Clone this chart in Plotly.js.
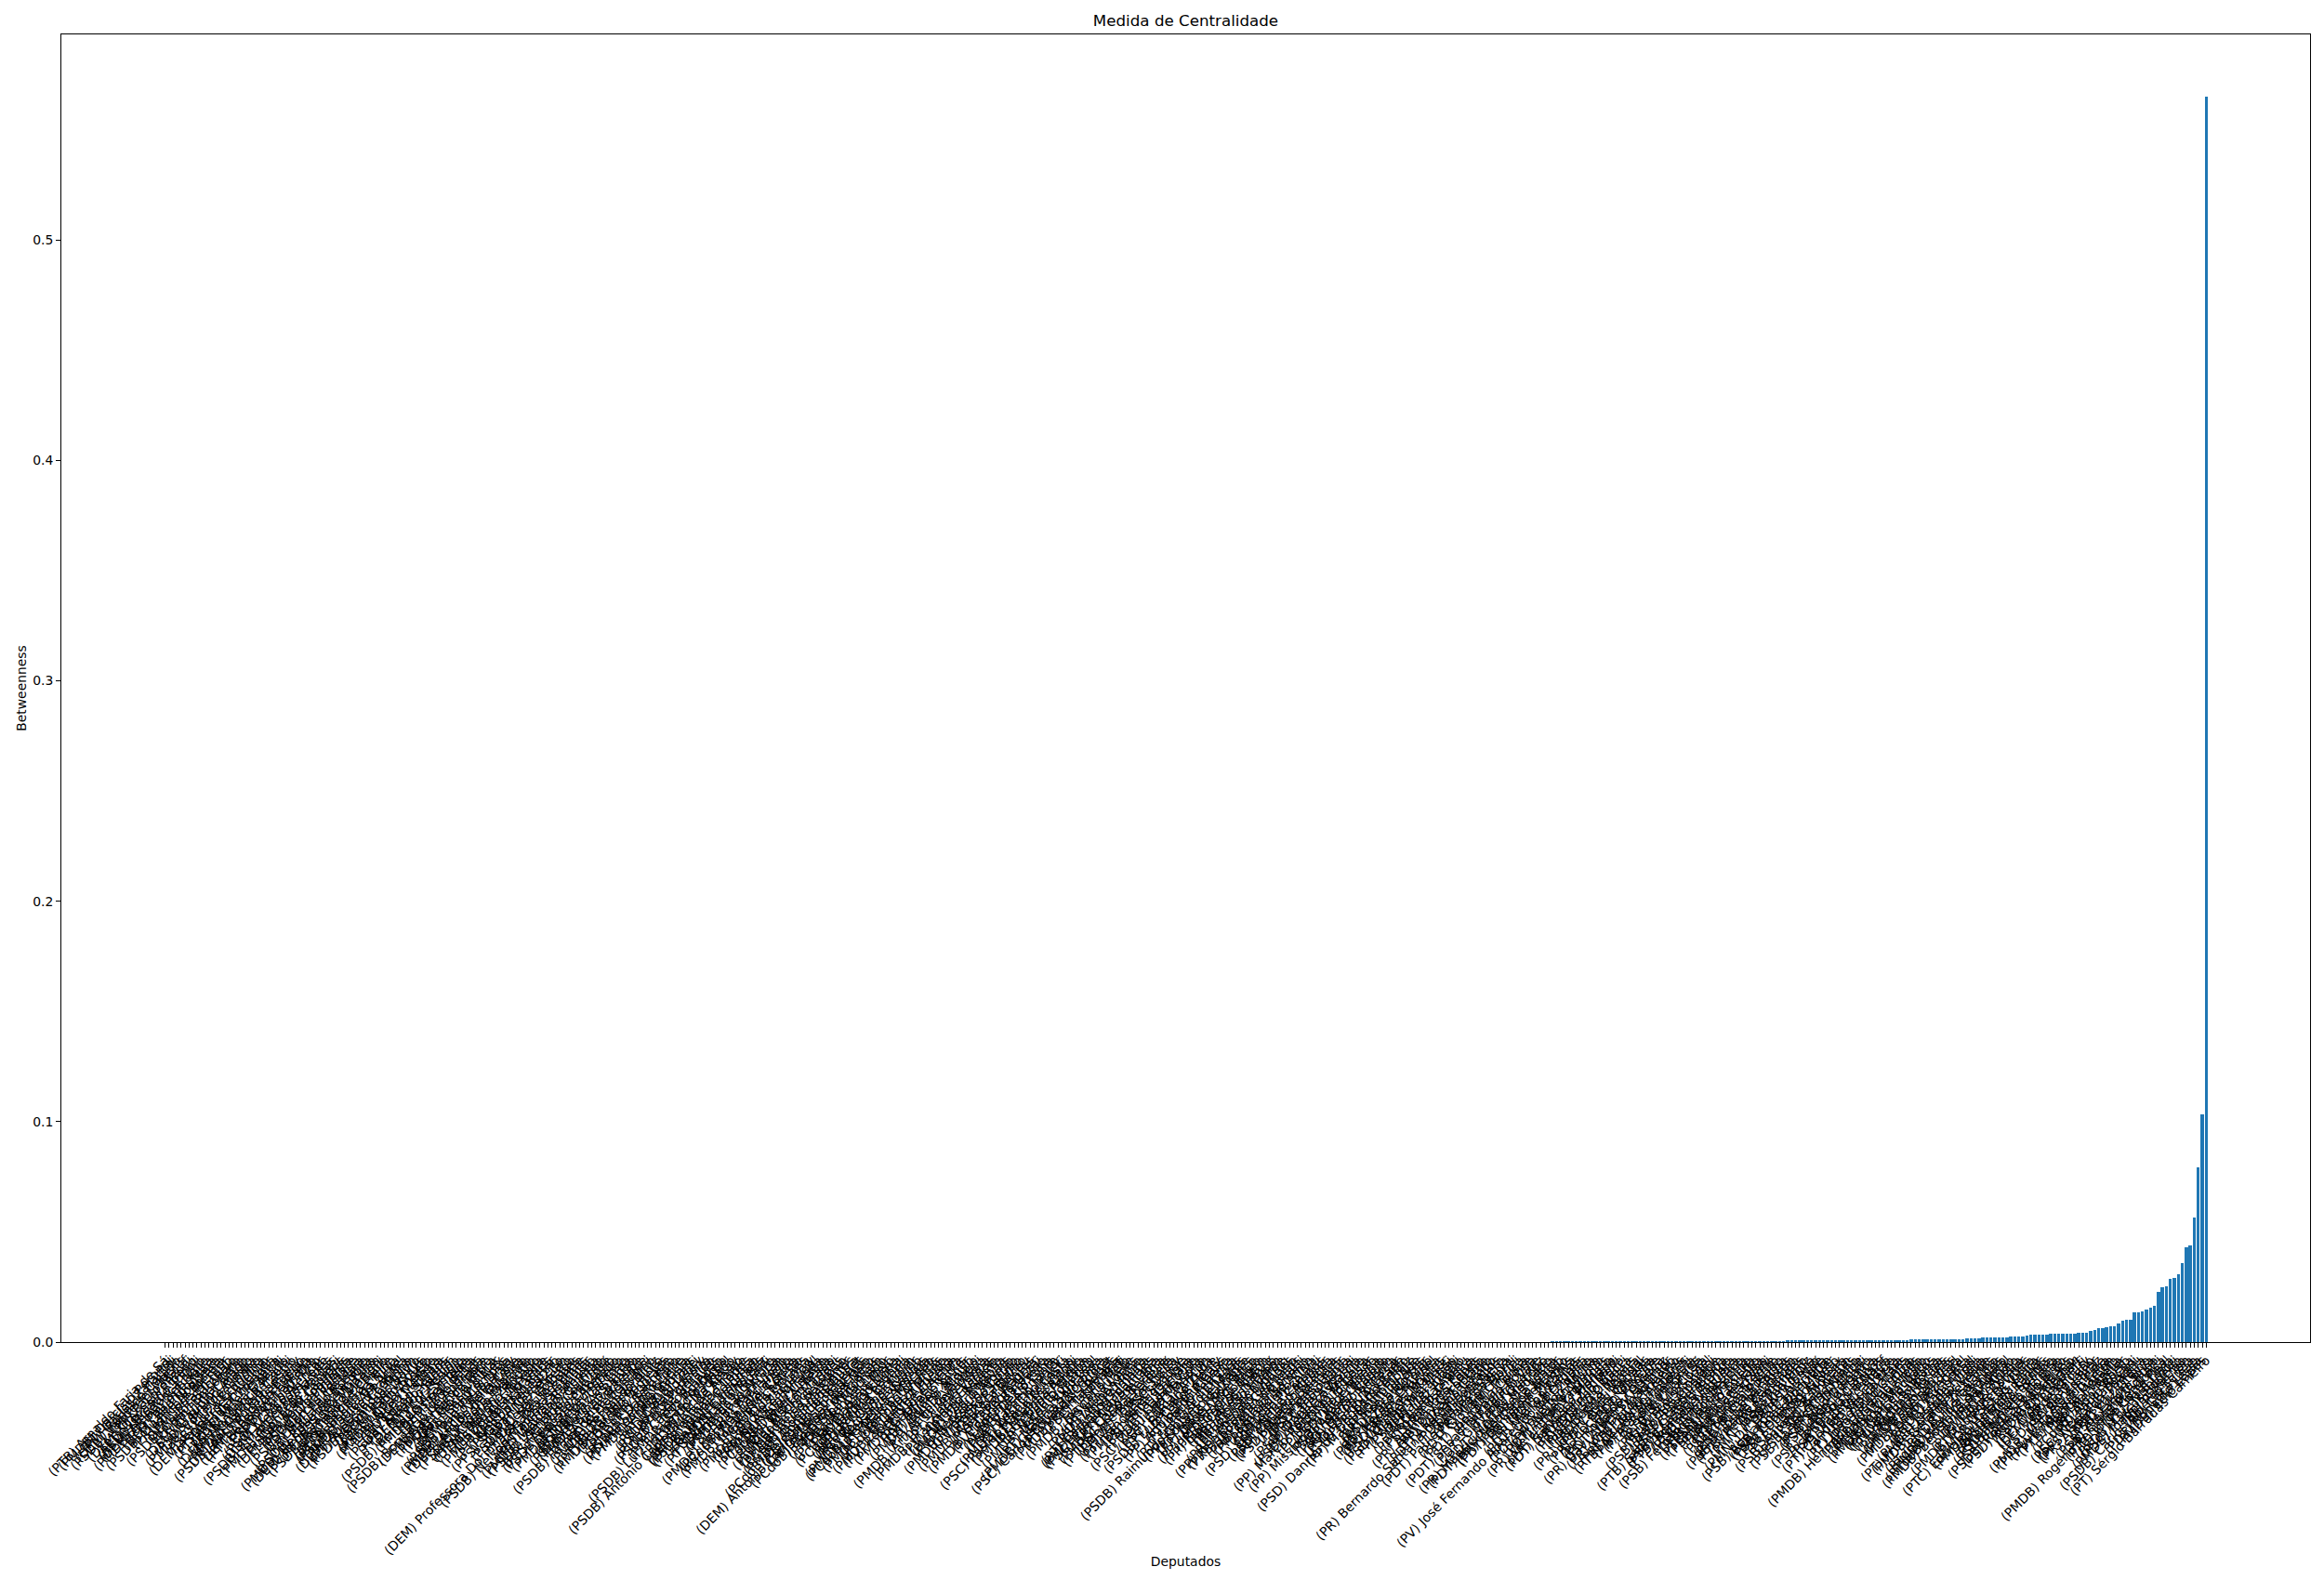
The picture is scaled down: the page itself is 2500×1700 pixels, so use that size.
<!DOCTYPE html>
<html>
<head>
<meta charset="utf-8">
<script src="https://cdn.plot.ly/plotly-3.0.1.min.js"></script>
<style>html,body{margin:0;padding:0;background:#fff;}#chart{width:2500px;height:1700px;}</style>
</head>
<body>
<div id="chart"></div>
<script>
// Tick labels (deputies), ordered by betweenness ascending
const deputados = [
"(PTB) Arnaldo Faria de Sá","(PMDB) Darcísio Perondi","(PT) Carlos Zarattini","(DEM) Ronaldo Caiado","(PSDB) Vanderlei Macris","(PP) Paulo Maluf","(DEM) Onyx Lorenzoni","(PT) Devanir Ribeiro","(PSDB) Ricardo Tripoli","(DEM) Mendonça Filho",
"(PMDB) Osmar Serraglio","(PT) Paulo Teixeira","(DEM) Rodrigo Maia","(PSDB) Duarte Nogueira","(PR) Lincoln Portela","(PT) José Mentor","(DEM) Efraim Filho","(PSDB) Carlos Sampaio","(PP) Jair Bolsonaro","(PT) Jilmar Tatto",
"(DEM) Claudio Cajado","(PSDB) Bruno Araújo","(PMDB) Eduardo Cunha","(PT) Vicentinho","(PSB) Luiza Erundina","(DEM) Pauderney Avelino","(PSDB) Jutahy Junior","(PT) Arlindo Chinaglia","(PDT) Miro Teixeira","(PSDB) Mara Gabrilli",
"(DEM) Mendonça Prado","(PT) Ricardo Berzoini","(PMDB) Marcelo Castro","(PSDB) Antonio Imbassahy","(PPS) Rubens Bueno","(DEM) Abelardo Lupion","(PT) Henrique Fontana","(PSDB) William Dib","(PV) Sarney Filho","(PSOL) Chico Alencar",
"(DEM) Alexandre Leite","(PSDB) Emanuel Fernandes","(PT) Pepe Vargas","(PMDB) Leonardo Picciani","(PSDB) João Campos","(DEM) Paulo Magalhães","(PT) Paulo Pimenta","(PSOL) Ivan Valente","(PSDB) Marcus Pestana","(DEM) Felipe Maia",
"(PT) Maria do Rosário","(PSDB) Eduardo Barbosa","(PMDB) Mendes Ribeiro Filho","(DEM) Jorge Tadeu Mudalen","(PT) Fernando Marroni","(PSDB) Rodrigo de Castro","(PPS) Roberto Freire","(DEM) Eli Correa Filho","(PT) Benedita da Silva","(PSDB) Paulo Abi-Ackel",
"(PMDB) Eliseu Padilha","(DEM) Augusto Coutinho","(PT) Alessandro Molon","(PSDB) Domingos Sávio","(PSOL) Jean Wyllys","(DEM) Fábio Souto","(PT) Chico D'Angelo","(PSDB) Nilson Leitão","(PMDB) Alceu Moreira","(DEM) Lira Maia",
"(PT) Edson Santos","(PSDB) Alfredo Kaefer","(PPS) Arnaldo Jardim","(DEM) Vitor Penido","(PT) Luiz Sérgio","(PSDB) Reinaldo Azambuja","(PMDB) Osmar Terra","(DEM) Mandetta","(PT) Jorge Bittar","(PSDB) Bonifácio de Andrada",
"(DEM) Davi Alcolumbre","(PT) Fernando Ferro","(PMDB) Lelo Coimbra","(PSDB) Marcio Bittar","(PPS) Sandro Alex","(DEM) Júlio Campos","(PT) João Paulo Lima","(PSDB) Pinto Itamaraty","(PMDB) Lúcio Vieira Lima","(DEM) Arolde de Oliveira",
"(PT) Pedro Eugênio","(PSDB) Rogério Marinho","(PPS) Carmen Zanotto","(DEM) Betinho Rosado","(PT) Amauri Teixeira","(PSDB) Otavio Leite","(PMDB) Colbert Martins","(DEM) João Bittar","(PT) Nelson Pellegrino","(PSDB) Andreia Zito",
"(PPS) Stepan Nercessian","(PT) Luiz Alberto","(PSDB) Cesar Colnago","(PMDB) Mauro Lopes","(DEM) Professora Dorinha Seabra Rezende","(PT) Josias Gomes","(PSDB) Nelson Marchezan Junior","(PPS) Dimas Ramalho","(PT) Waldenor Pereira","(PMDB) Leonardo Quintão",
"(PSDB) Zenaldo Coutinho","(PT) Emiliano José","(PPS) Augusto Carvalho","(PSDB) Eduardo Azeredo","(PT) Zezéu Ribeiro","(PMDB) Newton Cardoso","(PSDB) Vaz de Lima","(PT) Valmir Assunção","(PSDB) Berinho Bantim","(PMDB) Saraiva Felipe",
"(PT) Afonso Florence","(PSDB) Fernando Francischini","(PT) Assis Carvalho","(PMDB) Fernando Diniz","(PSDB) Nilson Pinto","(PT) Nazareno Fonteles","(PMDB) Antônio Andrade","(PSDB) Ruy Carneiro","(PT) Beto Faro","(PMDB) Danilo Forte",
"(PSDB) Sergio Guerra","(PT) Miriquinho Batista","(PMDB) Aníbal Gomes","(PSDB) Izalci","(PT) Cláudio Puty","(PMDB) Raul Henry","(PSDB) Rui Palmeira","(PT) Zé Geraldo","(PMDB) Pedro Chaves","(PSDB) Carlos Brandão",
"(PT) Policarpo","(PMDB) Sandro Mabel","(PSDB) Luiz Fernando Machado","(PT) Erika Kokay","(PMDB) Íris de Araújo","(PSDB) Antonio Carlos Mendes Thame","(PT) Reginaldo Lopes","(PMDB) Júnior Coimbra","(PSDB) Walter Feldman","(PT) Gabriel Guimarães",
"(PMDB) Edinho Bez","(PSDB) Marco Tebaldi","(PT) Leonardo Monteiro","(PMDB) João Arruda","(PSDB) Bruna Furlan","(PT) Padre João","(PMDB) Hermes Parcianello","(PCdoB) Manuela d'Ávila","(PT) Miguel Corrêa","(PMDB) Moacir Micheletto",
"(PCdoB) Jô Moraes","(PT) Odair Cunha","(PMDB) André Zacharow","(PCdoB) Alice Portugal","(PT) Nilmário Miranda","(PMDB) Valdir Colatto","(PCdoB) Daniel Almeida","(PT) Weliton Prado","(PMDB) Mauro Mariani","(PCdoB) Chico Lopes",
"(PT) Margarida Salomão","(PMDB) Celso Maldaner","(PCdoB) Luciana Santos","(PT) Domingos Dutra","(PMDB) Ronaldo Benedet","(PCdoB) Delegado Protógenes","(PT) Francisco Praciano","(DEM) Antonio Carlos Magalhães Neto","(PMDB) Rose de Freitas","(PCdoB) Evandro Milhomem",
"(PT) Sibá Machado","(PMDB) Manoel Junior","(PCdoB) Assis Melo","(PT) Taumaturgo Lima","(PMDB) Hugo Motta","(PCdoB) Jandira Feghali","(PT) Fátima Bezerra","(PMDB) Nilda Gondim","(PCdoB) Osmar Júnior","(PT) Rogério Carvalho",
"(PMDB) Alexandre Santos","(PCdoB) Perpétua Almeida","(PT) Márcio Macêdo","(PMDB) Washington Reis","(PCdoB) João Ananias","(PT) Artur Bruno","(PMDB) Solange Almeida","(PV) Roberto de Lucena","(PT) José Airton","(PMDB) Gabriel Chalita",
"(PV) Alfredo Sirkis","(PT) Eudes Xavier","(PMDB) Edinho Araújo","(PV) Dr. Aluizio","(PT) Angelo Vanhoni","(PMDB) Arthur Oliveira Maia","(PV) Penna","(PT) André Vargas","(PMDB) Francisco Escórcio","(PV) Antônio Roberto",
"(PT) Dr. Rosinha","(PMDB) Pedro Novais","(PV) Henrique Afonso","(PT) Assis do Couto","(PMDB) Professor Setimo","(PV) Fábio Ramalho","(PT) Zeca Dirceu","(PMDB) Asdrúbal Bentes","(PV) Paulo Wagner","(PT) Pedro Uczai",
"(PMDB) Elcione Barbalho","(PV) Rosane Ferreira","(PT) Décio Lima","(PMDB) José Priante","(PSC) Ratinho Junior","(PT) Luci Choinacki","(PMDB) Wladimir Costa","(PSC) Pastor Marco Feliciano","(PT) Rubens Otoni","(PMDB) Marinha Raupp",
"(PSC) Filipe Pereira","(PT) Pedro Wilson","(PMDB) Natan Donadon","(PSC) Hugo Leal","(PT) Marina Santanna","(PMDB) Genecias Noronha","(PSC) Carlos Eduardo Cadoca","(PT) Vander Loubet","(PMDB) Fátima Pelaes","(PSC) Takayama",
"(PT) Biffi","(PMDB) Flaviano Melo","(PSC) Lauriete","(PT) Iriny Lopes","(PMDB) Renan Filho","(PSC) Andre Moura","(PT) Carlinhos Almeida","(PMDB) João Magalhães","(PSC) Erivelton Santana","(PT) Newton Lima",
"(PMDB) Carlos Bezerra","(PSC) Costa Ferreira","(PT) Janete Rocha Pietá","(PMDB) Teresa Surita","(PSC) Deley","(PT) Vanderlei Siraque","(PMDB) Almeida Lima","(PSC) Silas Câmara","(PT) Luiz Couto","(PMDB) Camilo Cola",
"(PSC) Zequinha Marinho","(PT) Marcon","(PSC) Edmar Arruda","(PT) Ronaldo Zulke","(PSDB) Luiz Carlos Hauly","(PT) Bohn Gass","(PP) Aguinaldo Ribeiro","(PT) Paulo Ferreira","(PP) Arthur Lira","(PT) Francisco Chagas",
"(PSDB) Raimundo Gomes de Matos","(PP) Eduardo da Fonte","(PT) Jesus Rodrigues","(PP) Dilceu Sperafico","(PRB) Vitor Paulo","(PP) Jerônimo Goergen","(PRB) George Hilton","(PP) Luis Carlos Heinze","(PRB) Acelino Popó","(PP) Afonso Hamm",
"(PRB) Cleber Verde","(PP) Renato Molling","(PRB) Antonio Bulhões","(PP) José Otávio Germano","(PRB) Jhonatan de Jesus","(PP) Vilson Covatti","(PRB) Márcio Marinho","(PP) Esperidião Amin","(PRB) Heleno Silva","(PP) João Pizzolatti",
"(PSD) Guilherme Campos","(PP) Nelson Meurer","(PSD) Eduardo Sciarra","(PP) Roberto Balestra","(PSD) Moreira Mendes","(PP) Sandes Júnior","(PSD) Fábio Faria","(PP) Carlos Souza","(PSD) Onofre Agostini","(PP) Rebecca Garcia",
"(PSD) Armando Vergílio","(PP) Márcio Reinaldo Moreira","(PSD) Júlio Cesar","(PP) Toninho Pinheiro","(PSD) Jorge Boeira","(PP) Missionário José Olimpio","(PSD) Ademir Camilo","(PP) Simão Sessim","(PSD) Edson Pimenta","(PP) Dr. Paulo César",
"(PSD) Diego Andrade","(PP) Roberto Britto","(PSD) Danrlei de Deus Hinterholz","(PP) Mário Negromonte","(PSD) Junji Abe","(PP) José Linhares","(PSD) Ricardo Izar","(PP) Lázaro Botelho","(PSD) Heuler Cruvinel","(PP) Iracema Portella",
"(PSD) Marcos Montes","(PP) Beto Mansur","(PSD) Guilherme Mussi","(PP) Waldir Maranhão","(PSD) Walter Ihoshi","(PP) Luiz Argôlo","(PSD) Irajá Abreu","(PP) Roberto Teixeira","(PSD) Eleuses Paiva","(PP) Júlio Lopes",
"(PR) Anthony Garotinho","(PP) Dimas Fabiano","(PR) Luciano Castro","(PDT) André Figueiredo","(PR) Bernardo Santana de Vasconcellos","(PDT) Brizola Neto","(PR) José Rocha","(PDT) Paulo Pereira da Silva","(PR) Milton Monti","(PDT) Giovani Cherini",
"(PR) Tiririca","(PDT) Vieira da Cunha","(PR) Paulo Freire","(PDT) Sebastião Bala Rocha","(PR) Lúcio Vale","(PDT) Giovanni Queiroz","(PR) Giacobo","(PDT) Marcos Medrado","(PR) Maurício Quintella Lessa","(PDT) Félix Mendonça Júnior",
"(PR) José Carlos Araújo","(PDT) Damião Feliciano","(PR) Jaime Martins","(PDT) Zé Silva","(PR) Aelton Freitas","(PDT) Mário Heringer","(PV) José Fernando Aparecido de Oliveira","(PR) Zoinho","(PDT) Weverton Rocha","(PR) Neilton Mulim",
"(PDT) Ângelo Agnolin","(PR) Wellington Fagundes","(PDT) Manato","(PR) Francisco Floriano","(PDT) Salvador Zimbaldi","(PR) Jorginho Mello","(PDT) Enio Bacci","(PR) Laercio Oliveira","(PDT) Flávia Morais","(PR) Gorete Pereira",
"(PDT) Sueli Vidigal","(PR) João Carlos Bacelar","(PDT) Oziel Oliveira","(PR) Inocêncio Oliveira","(PDT) Reguffe","(PR) Ronaldo Fonseca","(PDT) Wolney Queiroz","(PR) Davi Alves Silva Júnior","(PDT) João Dado","(PR) Wellington Roberto",
"(PTB) Jovair Arantes","(PR) Dr. Adilson Soares","(PTB) Nelson Marquezelli","(PR) Aracely de Paula","(PTB) Sérgio Moraes","(PR) Liliam Sá","(PTB) Silvio Costa","(PR) Vinicius Gurgel","(PTB) Eros Biondini","(PSB) Beto Albuquerque",
"(PTB) Paes Landim","(PSB) Glauber Braga","(PTB) Sabino Castelo Branco","(PSB) Gonzaga Patriota","(PTB) Ronaldo Nogueira","(PSB) Pastor Eurico","(PTB) Arnon Bezerra","(PSB) Fernando Coelho Filho","(PTB) Walney Rocha","(PSB) Paulo Foletto",
"(PTB) Nilton Capixaba","(PSB) Valadares Filho","(PTB) Alex Canziani","(PSB) Jose Stédile","(PTB) Antonio Brito","(PSB) Sandra Rosado","(PTB) Celia Rocha","(PSB) Ribamar Alves","(PTB) Josué Bengtson","(PSB) Givaldo Carimbão",
"(PTB) Pedro Fernandes","(PSB) Romário","(PMN) Jaqueline Roriz","(PSB) Keiko Ota","(PMN) Dr. Carlos Alberto","(PSB) Luiz Noé","(PSB) Abelardo Camarinha","(PSB) Jonas Donizette","(PSB) Leopoldo Meyer","(PSB) Domingos Neto",
"(PSB) Audifax","(PSB) Laurez Moreira","(PSB) Antonio Balhmann","(PSB) Ana Arraes","(PSB) Severino Ninho","(PSB) Janete Capiberibe","(PSB) Dr. Ubiali","(PSB) Júlio Delgado","(PSB) Márcio França","(PSB) Átila Lira",
"(PSB) Jefferson Campos","(PSB) Mauro Nazif","(PSB) Valtenir Pereira","(PT) Vicente Cândido","(PT) Cândido Vaccarezza","(PT) Marco Maia","(PT) José Guimarães","(PT) João Paulo Cunha","(PT) José Genoíno","(PMDB) Henrique Eduardo Alves",
"(PT) Dalva Figueiredo","(PMDB) Wilson Filho","(PT) Gilmar Machado","(PMDB) Marcelo Matos","(PT) Carlos Santana","(PMDB) Hildo Rocha","(PT) Ságuas Moraes","(PMDB) Átila Lins","(PT) Geraldo Simões","(PMDB) Nelson Trad",
"(PT) Joseph Bandeira","(PMDB) Edson Ezequiel","(PT) Rui Costa","(PMDB) Fabio Trad","(PT) José de Filippi","(PMDB) Leandro Vilela","(PT) Professora Marcivania","(PMDB) Geraldo Resende","(PT) Zé Carlos","(PMDB) Marçal Filho",
"(PTdoB) Lourival Mendes","(PMDB) Marllos Sampaio","(PTdoB) Rosinha da Adefal","(PMDB) Benjamin Maranhão","(PRTB) Aureo","(PMDB) Zé Vieira","(PHS) Felipe Bornier","(PMDB) Mauro Benevides","(PSL) Dr. Grilo","(PMDB) Gastão Vieira",
"(PTC) Edivaldo Holanda Junior","(PMDB) Lupércio Ramos","(PSD) Hélio Santos","(PMDB) Alberto Filho","(PSD) Homero Pereira","(PSDB) Alberto Mourão","(PSD) Sérgio Brito","(PSDB) Romero Rodrigues","(PSD) Roberto Santiago","(PSDB) Dr. Nechar",
"(PSD) Goulart","(PP) Cida Borghetti","(DEM) Jorge Khoury","(PP) João Leão","(PSD) Sérgio Zveiter","(PP) Renzo Braz","(PMDB) Marcelo Almeida","(PP) Luiz Fernando Faria","(PV) Lindomar Garçon","(PTB) Magda Mofatto",
"(PR) Lael Varella","(PP) Neri Geller","(PCdoB) Aldo Rebelo","(PT) Paulo Rocha","(PSC) Nelson Padovani","(PPS) Geraldo Thadeu","(PR) Anderson Ferreira","(PR) Luiz Otávio","(PSB) Edson Silva","(PSB) Alexandre Roso",
"(PT) Cláudio Vignatti","(PMDB) Rogério Peninha Mendonça","(PTB) Jorge Corte Real","(PP) Raul Lima","(PSDB) Luiz Nishimori","(PSC) Marcos Rogério","(PMDB) Joaquim Beltrão","(PT) Padre Ton","(PSDB) Carlos Alberto Leréia","(PP) Cacá Leão",
"(PDT) Ronaldo Lessa","(PMDB) Edio Lopes","(PT) Sérgio Barradas Carneiro"
];

// Betweenness values (same order)
const betweenness = [
0,0,0,0,0,0,0,0,0,0, 0,0,0,0,0,0,0,0,0,0, 0,0,0,0,0,0,0,0,0,0, 0,0,0,0,0,0,0,0,0,0,
0,0,0,0,0,0,0,0,0,0, 0,0,0,0,0,0,0,0,0,0, 0,0,0,0,0,0,0,0,0,0, 0,0,0,0,0,0,0,0,0,0,
0,0,0,0,0,0,0,0,0,0, 0,0,0,0,0,0,0,0,0,0, 0,0,0,0,0,0,0,0,0,0, 0,0,0,0,0,0,0,0,0,0,
0,0,0,0,0,0,0,0,0,0, 0,0,0,0,0,0,0,0,0,0, 0,0,0,0,0,0,0,0,0,0, 0,0,0,0,0,0,0,0,0,0,
0,0,0,0,0,0,0,0,0,0, 0,0,0,0,0,0,0,0,0,0, 0,0,0,0,0,0,0,0,0,0, 0,0,0,0,0,0,0,0,0,0,
0,0,0,0,0,0,0,0,0,0, 0,0,0,0,0,0,0,0,0,0, 0,0,0,0,0,0,0,0,0,0, 0,0,0,0,0,0,0,0,0,0,
0,0,0,0,0,0,0,0,0,0, 0,0,0,0,0,0,0,0,0,0, 0,0,0,0,0,0,0,0,0,0, 0,0,0,0,0,0,0,0,0,0,
0,0,0,0,0,0,0,0,0,0, 0,0,0,0,0,0,0,0,0,0, 0,0,0,0,0,0,0,0,0,0, 0,0,0,0,0,0,0,0,0,0,
0,0,0,0,0,0,0,0,0,0, 0,0,0,0,0,0,0,0,0,0,
0,0,0,0,0,0,0,0,0.0003,0.0003,
0.0003,0.0003,0.0003,0.0003,0.0003,0.0003,0.0003,0.0003,0.0003,0.0003,
0.0003,0.0003,0.0003,0.0003,0.0003,0.0003,0.0003,0.0003,0.0003,0.0003,
0.0003,0.0003,0.0003,0.0003,0.0003,0.0003,0.0003,0.0003,0.0003,0.0003,
0.0003,0.0004,0.0004,0.0004,0.0004,0.0004,0.0004,0.0004,0.0004,0.0004,
0.0004,0.0004,0.0004,0.0004,0.0004,0.0004,0.0004,0.0004,0.0004,0.0004,
0.0004,0.0004,0.0004,0.0004,0.0004,0.0004,0.0004,0.00084,0.00084,0.00084,
0.00084,0.00084,0.00084,0.00084,0.00084,0.00084,0.00084,0.00084,0.00084,0.00084,
0.00084,0.00084,0.00084,0.00084,0.00084,0.00084,0.00084,0.00084,0.00084,0.00084,
0.00084,0.00084,0.00084,0.00084,0.00084,0.00084,0.00084,0.00084,0.00126,0.00126,
0.00126,0.00126,0.00126,0.00126,0.00126,0.00126,0.00126,0.00126,0.00126,0.00126,
0.00126,0.00126,0.0017,0.0017,0.0017,0.0017,0.0021,0.0021,0.0021,0.0021,
0.0021,0.0021,0.0021,0.0025,0.0025,0.0025,0.0025,0.0030,0.0034,0.0034,
0.0034,0.0034,0.0034,0.0038,0.0038,0.0038,0.0038,0.0038,0.0038,0.0038,
0.0042,0.0042,0.0042,0.0051,0.0055,0.0063,0.0063,0.0067,0.0072,0.0072,
0.0084,0.0097,0.0101,0.0101,0.0135,0.0135,0.0139,0.0148,0.0156,0.0164,
0.0228,0.0249,0.0253,0.0287,0.0291,0.0308,0.0358,0.0430,0.0438,0.0565,
0.0793,0.1033,0.565
];

const yTicks = [0, 0.1, 0.2, 0.3, 0.4, 0.5];

const pos = deputados.map((_, i) => i);
const n = deputados.length;
const span = (n - 1 + 0.4) - (-0.4);
const xr = [-0.4 - 0.05 * span, n - 1 + 0.4 + 0.05 * span];
const ymax = Math.max.apply(null, betweenness) * 1.05;

const FONT = 'DejaVu Sans, Liberation Sans, sans-serif';

const trace = {
  type: 'bar',
  x: pos,
  y: betweenness,
  width: 0.8,
  marker: {color: '#1f77b4', line: {width: 0}},
  hoverinfo: 'skip'
};

const layout = {
  width: 2500,
  height: 1700,
  paper_bgcolor: '#ffffff',
  plot_bgcolor: '#ffffff',
  margin: {l: 66, r: 15, t: 37, b: 256, pad: 0},
  showlegend: false,
  font: {family: FONT, size: 13.9, color: '#000000'},
  title: {
    text: 'Medida de Centralidade',
    font: {family: FONT, size: 16.7, color: '#000000'},
    x: 0.5, xref: 'paper', xanchor: 'center',
    y: 1 - 22 / 1700, yref: 'container', yanchor: 'middle'
  },
  xaxis: {
    range: xr,
    tickmode: 'array',
    tickvals: pos,
    ticktext: deputados,
    tickangle: -45,
    ticks: 'outside', ticklen: 5, tickwidth: 1, tickcolor: '#000',
    showline: true, linecolor: '#000', linewidth: 1, mirror: true,
    showgrid: false, zeroline: false,
    tickfont: {family: FONT, size: 13.9, color: '#000'},
    automargin: false,
    title: {text: 'Deputados', font: {family: FONT, size: 13.9, color: '#000'}, standoff: 0}
  },
  yaxis: {
    range: [0, ymax],
    tickmode: 'array',
    tickvals: yTicks,
    ticktext: yTicks.map(v => v.toFixed(1)),
    ticks: 'outside', ticklen: 5, tickwidth: 1, tickcolor: '#000',
    showline: true, linecolor: '#000', linewidth: 1, mirror: true,
    showgrid: false, zeroline: false,
    tickfont: {family: FONT, size: 13.9, color: '#000'},
    automargin: false,
    title: {text: 'Betweenness', font: {family: FONT, size: 13.9, color: '#000'}, standoff: 3}
  },
  bargap: 0
};

Plotly.newPlot('chart', [trace], layout, {staticPlot: true, displayModeBar: false});
</script>
</body>
</html>
